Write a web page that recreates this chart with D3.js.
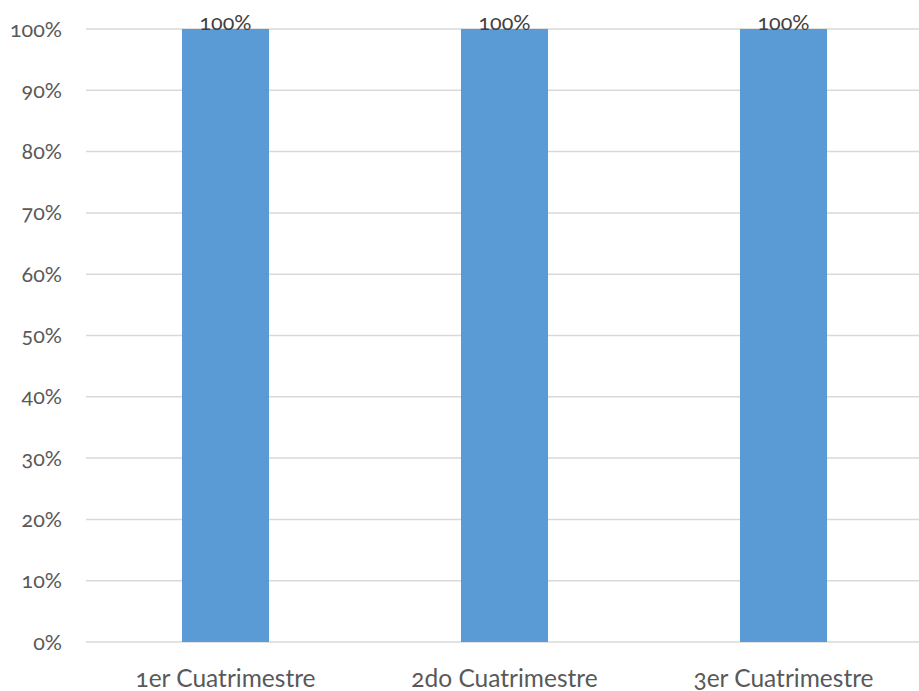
<!DOCTYPE html>
<html>
<head>
<meta charset="utf-8">
<script src="https://cdn.jsdelivr.net/npm/d3@7"></script>
<style>
  html, body { margin: 0; padding: 0; background: #fff; }
  svg { display: block; font-family: Lato, "Open Sans", sans-serif; font-variant-numeric: oldstyle-nums; font-feature-settings: "onum" 1; }
</style>
</head>
<body>
<svg id="chart" width="919" height="691"></svg>
<script>
const categories = ["1er Cuatrimestre", "2do Cuatrimestre", "3er Cuatrimestre"];
const values = [1.0, 1.0, 1.0];
const yTicks = [0, 0.1, 0.2, 0.3, 0.4, 0.5, 0.6, 0.7, 0.8, 0.9, 1.0];

const svg = d3.select("#chart");
const margin = { left: 86, right: 923, top: 29, bottom: 642 };

const x = d3.scaleBand()
  .domain(categories)
  .range([margin.left, margin.right])
  .paddingInner(0.688)
  .paddingOuter(0.344);

const y = d3.scaleLinear().domain([0, 1]).range([margin.bottom, margin.top]);
const pct = d3.format(".0%");

// horizontal gridlines
svg.append("g")
  .selectAll("line")
  .data(yTicks)
  .join("line")
  .attr("x1", margin.left)
  .attr("x2", margin.right)
  .attr("y1", d => y(d))
  .attr("y2", d => y(d))
  .attr("stroke", "#d9d9d9")
  .attr("stroke-width", 1.5);

// y-axis labels
svg.append("g")
  .selectAll("text")
  .data(yTicks)
  .join("text")
  .attr("x", 62)
  .attr("y", d => y(d))
  .attr("dy", "0.35em")
  .attr("text-anchor", "end")
  .attr("fill", "#595959")
  .attr("font-size", 21.5)
  .text(d => pct(d));

// bars
svg.append("g")
  .selectAll("rect")
  .data(values)
  .join("rect")
  .attr("x", (d, i) => x(categories[i]))
  .attr("y", d => y(d))
  .attr("width", x.bandwidth())
  .attr("height", d => y(0) - y(d))
  .attr("fill", "#5b9bd5");

// value labels
svg.append("g")
  .selectAll("text")
  .data(values)
  .join("text")
  .attr("x", (d, i) => x(categories[i]) + x.bandwidth() / 2)
  .attr("y", d => y(d) + 1)
  .attr("text-anchor", "middle")
  .attr("fill", "#404040")
  .attr("font-size", 21.5)
  .text(d => pct(d));

// category labels
svg.append("g")
  .selectAll("text")
  .data(categories)
  .join("text")
  .attr("x", d => x(d) + x.bandwidth() / 2)
  .attr("y", 678)
  .attr("dy", "0.35em")
  .attr("text-anchor", "middle")
  .attr("fill", "#595959")
  .attr("font-size", 24.5)
  .text(d => d);
</script>
</body>
</html>
